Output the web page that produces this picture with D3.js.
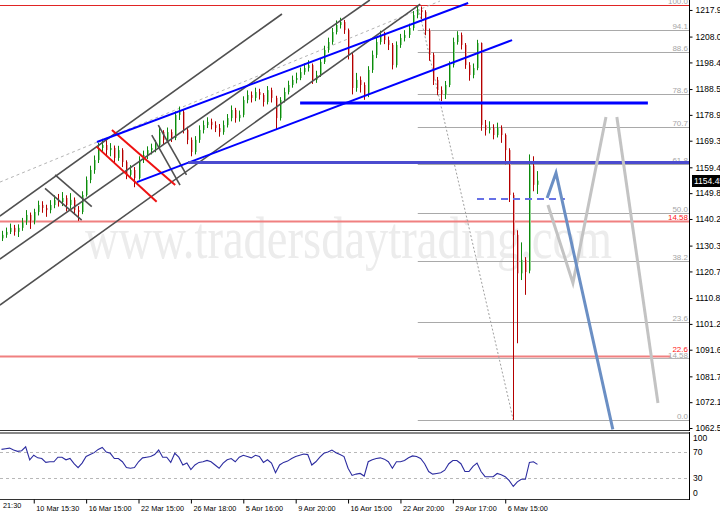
<!DOCTYPE html>
<html><head><meta charset="utf-8">
<script src="https://cdn.jsdelivr.net/npm/d3@7"></script>
<style>body{margin:0;background:#fff;}svg{display:block;}</style>
</head><body><svg id="c" width="720" height="511"></svg>
<script>
// ---------- DATA ----------
const opens=[1133.0,1134.3,1135.4,1136.9,1135.4,1136.9,1139.1,1141.7,1139.1,1142.8,
1145.4,1144.3,1143.5,1145.4,1147.3,1146.5,1148.0,1145.4,1147.3,1143.5,
1142.8,1149.1,1154.7,1158.4,1162.1,1166.6,1167.7,1165.8,1166.6,1162.9,
1165.8,1161.4,1156.6,1158.4,1155.4,1162.1,1164.0,1165.8,1166.6,1167.7,
1172.5,1169.6,1172.5,1170.3,1178.9,1180.0,1173.3,1169.6,1165.1,1169.6,
1173.3,1175.1,1176.3,1175.1,1174.0,1172.5,1175.1,1177.7,1180.7,1177.7,
1178.9,1184.4,1186.3,1185.2,1187.4,1186.3,1183.7,1188.1,1185.2,1177.7,
1184.4,1187.4,1190.0,1191.9,1192.6,1194.8,1196.3,1197.4,1191.9,1193.7,
1198.6,1203.0,1206.0,1209.7,1212.3,1213.4,1210.4,1201.2,1188.9,1191.9,
1190.0,1186.3,1195.6,1201.2,1206.0,1208.6,1206.7,1204.9,1197.4,1204.9,
1207.5,1208.6,1211.2,1216.0,1217.9,1217.1,1210.4,1201.2,1191.9,1188.1,
1186.3,1190.0,1197.4,1206.0,1208.6,1204.9,1197.4,1193.7,1196.3,1205.6,
1175.1,1173.3,1174.0,1171.4,1174.0,1171.4,1165.8,1149.1,1134.3,1120.0,
1125.0,1121.0,1160.0,1152.9];
const highs=[1135.8,1137.0,1138.5,1138.0,1138.2,1140.6,1143.5,1142.6,1144.0,1147.0,
1146.8,1145.5,1147.2,1149.0,1149.5,1150.2,1149.0,1149.8,1148.2,1145.0,
1150.5,1156.0,1160.0,1163.8,1168.5,1170.0,1169.5,1168.4,1167.5,1167.4,
1166.5,1162.0,1160.2,1159.5,1163.5,1165.6,1167.2,1168.2,1169.5,1174.0,
1173.2,1174.2,1173.5,1180.2,1182.0,1180.8,1174.5,1170.5,1171.0,1175.0,
1176.8,1178.0,1177.5,1176.5,1175.5,1176.8,1179.2,1182.4,1181.5,1180.5,
1185.8,1188.0,1187.6,1189.0,1188.6,1187.0,1189.6,1189.0,1186.0,1185.5,
1189.0,1191.6,1193.5,1194.6,1196.5,1198.0,1199.2,1198.0,1195.3,1200.0,
1204.6,1207.6,1211.2,1214.0,1215.0,1214.2,1211.0,1202.0,1194.5,1193.2,
1191.0,1197.0,1202.8,1207.6,1210.2,1209.8,1208.0,1205.6,1206.2,1209.0,
1210.4,1212.8,1217.5,1219.7,1219.2,1217.8,1211.0,1202.0,1193.0,1189.5,
1191.5,1198.8,1207.6,1210.0,1209.5,1205.6,1198.5,1198.0,1206.8,1205.8,
1177.0,1176.5,1175.4,1176.0,1175.0,1172.0,1166.5,1150.0,1136.0,1131.5,
1126.0,1164.2,1163.5,1158.0];
const lows=[1132.0,1133.2,1134.6,1134.0,1133.5,1135.8,1138.0,1136.5,1138.2,1141.5,
1142.5,1141.0,1142.3,1144.2,1144.8,1145.0,1143.0,1144.0,1141.8,1139.5,
1142.0,1148.5,1153.5,1157.0,1161.0,1165.0,1163.8,1163.5,1161.0,1161.8,
1159.5,1155.0,1155.2,1152.0,1154.8,1161.0,1162.5,1164.2,1165.0,1166.8,
1168.0,1168.5,1168.8,1169.5,1177.0,1172.0,1168.0,1163.5,1164.2,1168.5,
1172.0,1174.0,1173.5,1172.5,1170.8,1171.5,1174.2,1176.5,1176.0,1176.4,
1178.0,1183.2,1183.5,1184.0,1184.6,1182.0,1182.8,1183.5,1173.5,1176.8,
1183.5,1186.5,1189.0,1190.6,1191.8,1193.8,1195.0,1190.4,1190.8,1193.0,
1197.8,1202.0,1205.0,1208.8,1211.0,1209.0,1199.5,1186.5,1187.5,1187.2,
1184.5,1185.5,1194.5,1200.0,1205.0,1205.2,1203.0,1195.8,1196.5,1203.8,
1206.2,1207.5,1210.2,1214.8,1214.5,1208.5,1199.0,1190.0,1186.2,1184.0,
1184.8,1189.2,1196.5,1205.0,1203.2,1196.0,1191.6,1192.5,1195.5,1173.0,
1171.2,1172.0,1169.8,1170.5,1168.5,1160.5,1146.5,1065.5,1094.0,1117.5,
1112.0,1120.0,1150.5,1149.5];
const closes=[1134.3,1135.4,1136.9,1135.4,1136.9,1139.1,1141.7,1139.1,1142.8,1145.4,
1144.3,1143.5,1145.4,1147.3,1146.5,1148.0,1145.4,1147.3,1143.5,1142.8,
1149.1,1154.7,1158.4,1162.1,1166.6,1167.7,1165.8,1166.6,1162.9,1165.8,
1161.4,1156.6,1158.4,1155.4,1162.1,1164.0,1165.8,1166.6,1167.7,1172.5,
1169.6,1172.5,1170.3,1178.9,1180.0,1173.3,1169.6,1165.1,1169.6,1173.3,
1175.1,1176.3,1175.1,1174.0,1172.5,1175.1,1177.7,1180.7,1177.7,1178.9,
1184.4,1186.3,1185.2,1187.4,1186.3,1183.7,1188.1,1185.2,1177.7,1184.4,
1187.4,1190.0,1191.9,1192.6,1194.8,1196.3,1197.4,1191.9,1193.7,1198.6,
1203.0,1206.0,1209.7,1212.3,1213.4,1210.4,1201.2,1188.9,1191.9,1190.0,
1186.3,1195.6,1201.2,1206.0,1208.6,1206.7,1204.9,1197.4,1204.9,1207.5,
1208.6,1211.2,1216.0,1217.9,1217.1,1210.4,1201.2,1191.9,1188.1,1186.3,
1190.0,1197.4,1206.0,1208.6,1204.9,1197.4,1193.7,1196.3,1205.6,1175.1,
1173.3,1174.0,1171.4,1174.0,1171.4,1165.8,1149.1,1134.3,1120.0,1125.0,
1120.5,1160.0,1152.9,1154.45];
const rsiValues=[74,75,76,73,71,72,78,58,65,61,
60,54,55,55,62,62,58,60,52,46,
53,63,66,69,74,77,70,68,60,60,
55,46,45,46,55,61,62,63,66,73,
62,62,54,68,62,50,53,43,50,54,
55,57,55,50,45,53,58,60,55,62,
65,63,61,65,63,54,58,53,38,50,
54,56,60,63,65,67,66,50,55,62,
68,70,73,69,66,63,45,34,36,37,
33,55,58,60,61,59,55,45,55,55,
57,61,64,63,60,52,40,36,37,38,
42,52,57,57,52,40,40,48,53,40,
32,32,32,37,35,32,26,17,24,28,
28,54,55,51];
const priceTicks=[1217.90,1208.00,1198.40,1188.50,1178.90,1169.30,1159.40,1149.80,1140.20,1130.30,1120.70,1110.80,1101.20,1091.60,1081.70,1072.10,1062.50];
const dateTickIndex=[8,21,34,47,60,73,86,99,112,125];
const dateTickLabels=["10 Mar 15:30","16 Mar 15:00","22 Mar 15:00","26 Mar 18:00","5 Apr 16:00","9 Apr 20:00","16 Apr 15:00","22 Apr 20:00","29 Apr 17:00","6 May 15:00"];
const firstPartialLabel="21:30";
const fibLevels=[0,23.6,38.2,50,61.8,70.7,78.6,88.6,94.1,100];
const fibLabels=["0.0","23.6","38.2","50.0","61.8","70.7","78.6","88.6","94.1","100.0"];
const fibLow=1065.5, fibHigh=1219.7, fibStartIndex=103.3;
const rsiLevels=[100,70,30,0];
const lastPrice=1154.45;
// drawn objects as [barIndex, price] points
const channelLines=[[[-0.4,1141.3],[69.6,1216.4]],[[-0.4,1125.3],[91.4,1221.6]],[[-0.4,1108.2],[103.9,1220.1]]];
const shortGreyLines=[[[13.3,1156.6],[22.4,1144.8]],[[10.8,1151.6],[19.9,1139.8]],[[38.9,1175.1],[45.9,1156.6]],[[37.3,1171.4],[44.3,1152.8]]];
const redChannel=[[[23.6,1167.1],[38.5,1146.6]],[[27.4,1173.3],[43.1,1152.8]]];
const blueTrend=[[[23.7,1168.8],[115.8,1220.5]],[[33.6,1153.9],[126.7,1206.7]]];
const blueLevel=[[74.1,1183.3],[160.4,1183.3]];
const purpleLevel=[[46.3,1161.2],[171,1161.2]];
const blueDashed=[[118,1147.6],[139.8,1147.6]];
const steelPath=[[135.4,1148.0],[137.6,1157.3],[151.7,1062.0]];
const greyPathA=[[135.6,1145.4],[141.8,1116.4],[150.0,1178.1]];
const greyPathB=[[152.7,1178.1],[162.9,1071.8]];
const dashedTrend=[[-0.4,1153.9],[108.8,1221.2]];
const fibBase=[[103.3,1219.7],[127,1065.5]];
const redLevels=[1219.7,1139.5,1089.3];
const redLevelEnd=[171,171,166];
const redLevelLabels=["","14.58","22.6"];
const greyExtraLevel=1088.4, greyExtraLabel="14.58";

// ---------- SCALES ----------
const W=689, H=430;
const xS=d3.scaleLinear().domain([0,171]).range([1.5,690.6]);
const yS=d3.scaleLinear().domain([1062.5,1221.6]).range([428,0]);
const rS=d3.scaleLinear().domain([0,100]).range([497.5,432.5]);
const svg=d3.select("#c");
const font="Liberation Sans, Arial, sans-serif";
svg.append("defs").append("clipPath").attr("id","mc").append("rect").attr("x",0).attr("y",0).attr("width",W).attr("height",H);
svg.select("defs").append("clipPath").attr("id","rc").append("rect").attr("x",0).attr("y",433).attr("width",W).attr("height",66);
const main=svg.append("g").attr("clip-path","url(#mc)");
const line=d3.line().x(d=>xS(d[0])).y(d=>yS(d[1]));

// watermark
main.append("text").attr("x",85).attr("y",258).attr("textLength",527).attr("lengthAdjust","spacingAndGlyphs")
 .attr("font-family","Liberation Serif, Times New Roman, serif").attr("font-size",60).attr("fill","#ececec")
 .text("www.tradersdaytrading.com");

// fib levels
const fibPrice=l=>fibLow+(fibHigh-fibLow)*l/100;
fibLevels.forEach((l,i)=>{
  const y=Math.round(yS(fibPrice(l)))+0.5;
  main.append("line").attr("x1",xS(fibStartIndex)).attr("x2",W).attr("y1",y).attr("y2",y).attr("stroke","#a9a9a9").attr("stroke-width",1);
  main.append("text").attr("x",688).attr("y",y-2).attr("text-anchor","end").attr("font-family",font).attr("font-size",8).attr("fill","#a6a6a6").text(fibLabels[i]);
});
// grey extra level
{const y=Math.round(yS(greyExtraLevel))+0.5;
 main.append("line").attr("x1",xS(fibStartIndex)).attr("x2",W).attr("y1",y).attr("y2",y).attr("stroke","#b5b5b5");
}
// red levels
redLevels.forEach((p,i)=>{
  const y=Math.round(yS(p))+0.5;
  main.append("line").attr("x1",0).attr("x2",xS(redLevelEnd[i])).attr("y1",y).attr("y2",y)
   .attr("stroke",i==0?"#e02424":"#f08080").attr("stroke-width",i==0?1:2);
  if(redLevelLabels[i]) main.append("text").attr("x",688).attr("y",y-(i==2?5:2)).attr("text-anchor","end").attr("font-family",font).attr("font-size",8).attr("fill","#ff2020").text(redLevelLabels[i]);
});
{const y=Math.round(yS(greyExtraLevel))+0.5;
 main.append("text").attr("x",688).attr("y",y-1).attr("text-anchor","end").attr("font-family",font).attr("font-size",8).attr("fill","#a6a6a6").text(greyExtraLabel);}

// dashed trend & fib base
main.append("path").attr("d",line(dashedTrend)).attr("stroke","#b4b4b4").attr("stroke-dasharray","3,3").attr("fill","none");
main.append("path").attr("d",line(fibBase)).attr("stroke","#a0a0a0").attr("stroke-dasharray","2,2").attr("fill","none");

// candles
const cg=main.append("g");
closes.forEach((c,i)=>{
  const o=opens[i], bull=c>=o;
  const x=Math.round(xS(i));
  const yt=yS(Math.max(o,c)), yb=yS(Math.min(o,c));
  cg.append("rect").attr("x",x).attr("y",yt).attr("width",2).attr("height",Math.max(1,yb-yt)).attr("fill",bull?"#8fd48f":"#e9a3a3");
  cg.append("line").attr("x1",x+0.5).attr("x2",x+0.5).attr("y1",yS(highs[i])).attr("y2",yS(lows[i])).attr("stroke",bull?"#0d8a0d":"#b40000").attr("stroke-width",1);
});

// objects
channelLines.forEach(l=>main.append("path").attr("d",line(l)).attr("stroke","#505050").attr("stroke-width",1.6).attr("fill","none"));
shortGreyLines.forEach(l=>main.append("path").attr("d",line(l)).attr("stroke","#505050").attr("stroke-width",1.6).attr("fill","none"));
redChannel.forEach(l=>main.append("path").attr("d",line(l)).attr("stroke","#ee1111").attr("stroke-width",2).attr("fill","none"));
blueTrend.forEach(l=>main.append("path").attr("d",line(l)).attr("stroke","#0000ff").attr("stroke-width",2).attr("fill","none"));
main.append("path").attr("d",line(blueLevel)).attr("stroke","#0000ff").attr("stroke-width",3).attr("fill","none");
main.append("path").attr("d",line(purpleLevel)).attr("stroke","#4b4bcf").attr("stroke-width",3).attr("fill","none");
main.append("path").attr("d",line(blueDashed)).attr("stroke","#6670e6").attr("stroke-width",2).attr("stroke-dasharray","7,5").attr("fill","none");
main.append("path").attr("d",line(greyPathA)).attr("stroke","#c3c3c3").attr("stroke-width",3).attr("fill","none");
main.append("path").attr("d",line(greyPathB)).attr("stroke","#c3c3c3").attr("stroke-width",3).attr("fill","none");
main.append("path").attr("d",line(steelPath)).attr("stroke","#6b8fc4").attr("stroke-width",3).attr("fill","none");

// borders
svg.append("line").attr("x1",0).attr("x2",W).attr("y1",430.5).attr("y2",430.5).attr("stroke","#333");
svg.append("line").attr("x1",0).attr("x2",W).attr("y1",433).attr("y2",433).attr("stroke","#888").attr("stroke-width",2);
svg.append("line").attr("x1",0).attr("x2",W).attr("y1",499.5).attr("y2",499.5).attr("stroke","#333");
svg.append("line").attr("x1",W+0.5).attr("x2",W+0.5).attr("y1",0).attr("y2",431).attr("stroke","#000");
svg.append("line").attr("x1",W+0.5).attr("x2",W+0.5).attr("y1",432).attr("y2",500).attr("stroke","#000");

// price axis
const pa=svg.append("g").attr("transform",`translate(${W+0.5},0)`)
 .call(d3.axisRight(yS).tickValues(priceTicks).tickFormat(d=>d.toFixed(2)).tickSize(3).tickPadding(3));
pa.select(".domain").remove();
pa.selectAll("text").attr("font-family",font).attr("font-size",8.5).attr("fill","#000");
// last price label
{const y=Math.round(yS(lastPrice));
 svg.append("rect").attr("x",692).attr("y",y-6).attr("width",28).attr("height",12).attr("fill","#000");
 svg.append("text").attr("x",694).attr("y",y+3).attr("font-family",font).attr("font-size",8.5).attr("fill","#fff").text(lastPrice.toFixed(2));}

// date axis
const da=svg.append("g").attr("transform","translate(0,499.5)")
 .call(d3.axisBottom(xS).tickValues(dateTickIndex).tickFormat((d,i)=>dateTickLabels[i]).tickSize(4).tickPadding(2));
da.select(".domain").remove();
da.selectAll("text").attr("text-anchor","start").attr("x",2).attr("font-family",font).attr("font-size",7.3).attr("fill","#000");
svg.append("text").attr("x",3).attr("y",508).attr("font-family",font).attr("font-size",7.3).text(firstPartialLabel);

// RSI
const rg=svg.append("g").attr("clip-path","url(#rc)");
[70,30].forEach(v=>rg.append("line").attr("x1",0).attr("x2",W).attr("y1",Math.round(rS(v))+0.5).attr("y2",Math.round(rS(v))+0.5).attr("stroke","#b8b8b8").attr("stroke-dasharray","3,3"));
rg.append("path").attr("d",d3.line().x((d,i)=>xS(i)).y(d=>rS(d))(rsiValues)).attr("stroke","#2c2ca0").attr("stroke-width",1.1).attr("fill","none");
const rsiLabelY=[438,452,478,493];
rsiLevels.forEach((v,i)=>svg.append("text").attr("x",693).attr("y",rsiLabelY[i]+3).attr("font-family",font).attr("font-size",8.5).attr("fill","#000").text(v));
</script></body></html>
